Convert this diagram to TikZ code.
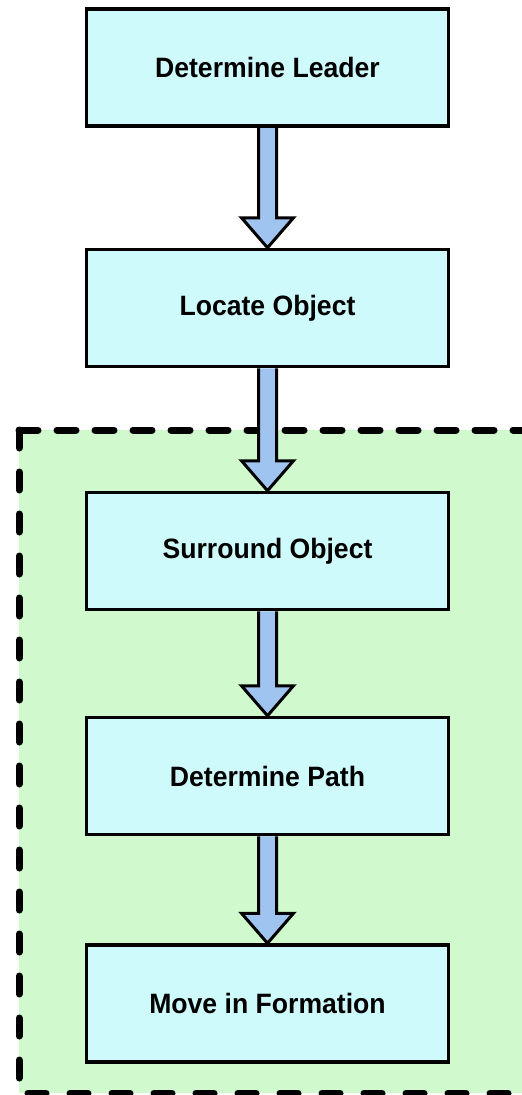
\documentclass[tikz,border=0pt]{standalone}
\usepackage{fontspec}
\setmainfont{Liberation Sans}[FakeStretch=0.95]
\usetikzlibrary{calc}
\pgfdeclarelayer{bg}
\pgfdeclarelayer{mid}
\pgfsetlayers{bg,mid,main}
\definecolor{boxfill}{RGB}{207,250,252}
\definecolor{regionfill}{RGB}{208,250,206}
\definecolor{arrowfill}{RGB}{160,196,240}
\newcommand{\flowarrow}[2]{%
  \draw[blockarrow] ($(#1.south)+(-9,0)$) -- ($(#2.north)+(-9,-30)$) -- ($(#2.north)+(-26,-30)$) -- (#2.north) -- ($(#2.north)+(26,-30)$) -- ($(#2.north)+(9,-30)$) -- ($(#1.south)+(9,0)$);}
\begin{document}
\begin{tikzpicture}[x=1pt,y=-1pt,
  stepbox/.style={draw=black, line width=3.5pt, fill=boxfill, minimum width=362pt, minimum height=117pt, inner sep=0pt, font=\fontsize{28}{32}\selectfont\bfseries},
  blockarrow/.style={draw=black, line width=3pt, fill=arrowfill, line join=miter},
  regionline/.style={draw=black, line width=7pt, line cap=round}]
\useasboundingbox (0,0) rectangle (522,1095);
\clip (0,0) rectangle (522,1095);
\begin{pgfonlayer}{bg}
  \fill[regionfill] (19,430) rectangle (560,1093);
  \draw[regionline, dash pattern=on 19pt off 19pt] (19,430) -- (560,430);
  \draw[regionline, dash pattern=on 18pt off 24pt] (19,430) -- (19,1093) -- (560,1093);
\end{pgfonlayer}
\node[stepbox] (lead) at (267.5,67.5) {Determine Leader};
\node[stepbox] (locate) at (267.5,308) {Locate Object};
\node[stepbox] (surround) at (267.5,551) {Surround Object};
\node[stepbox] (path) at (267.5,776) {Determine Path};
\node[stepbox] (move) at (267.5,1003.5) {Move in Formation};
\begin{pgfonlayer}{mid}
  \flowarrow{lead}{locate}
  \flowarrow{locate}{surround}
  \flowarrow{surround}{path}
  \flowarrow{path}{move}
\end{pgfonlayer}
\end{tikzpicture}
\end{document}
